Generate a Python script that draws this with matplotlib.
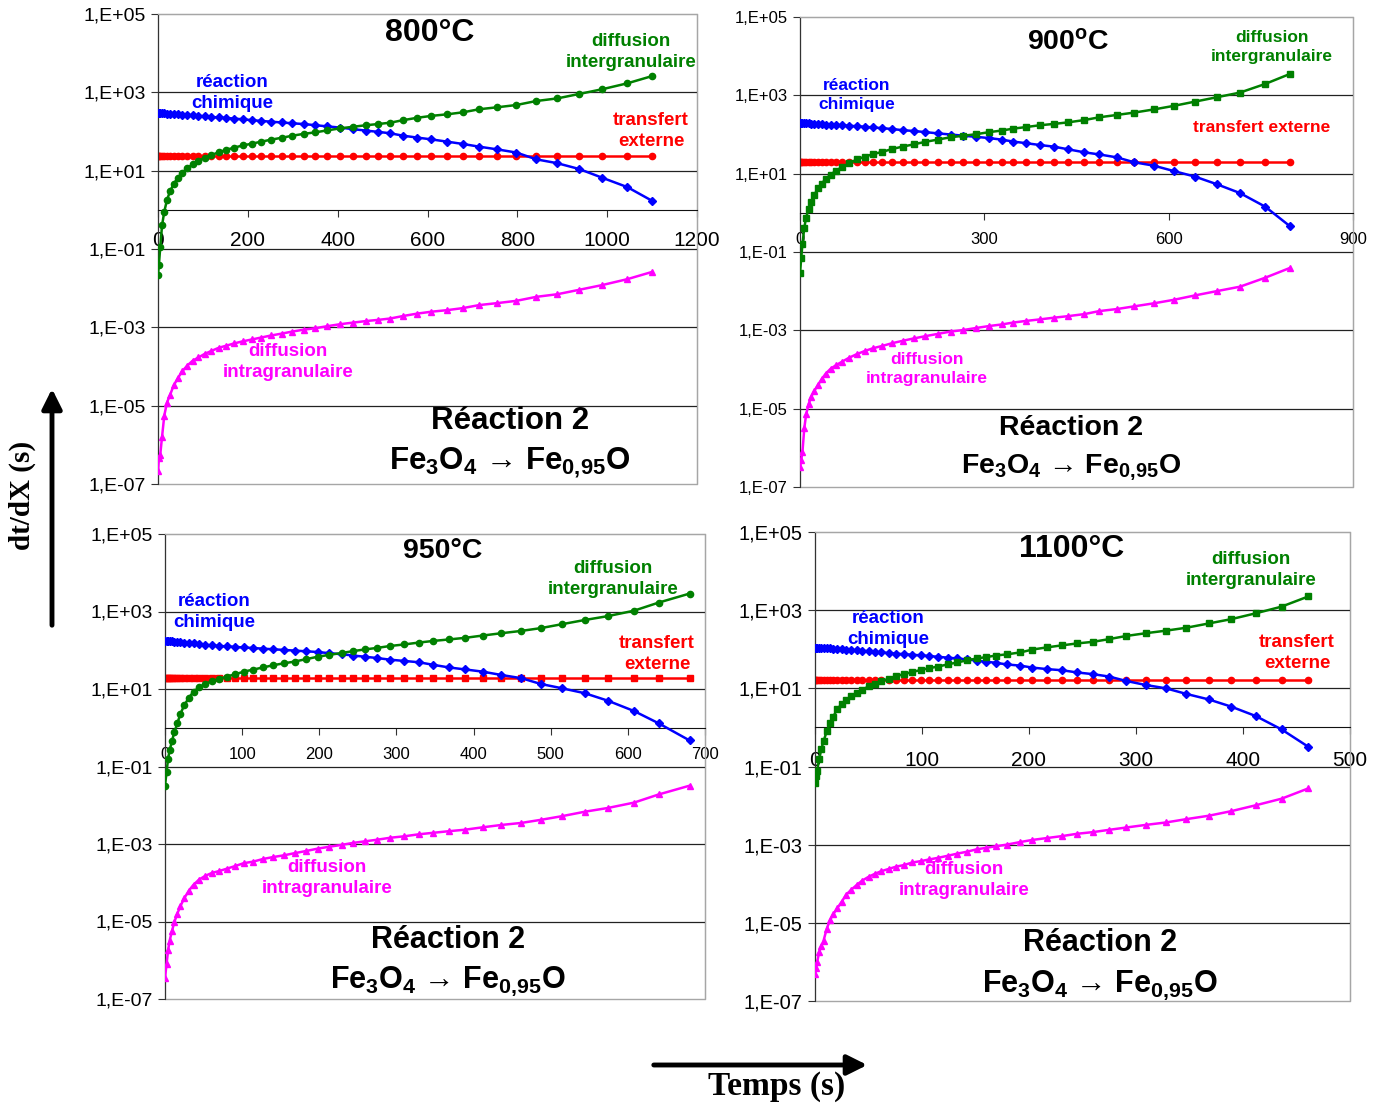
import numpy as np
import matplotlib
matplotlib.use("Agg")
import matplotlib.pyplot as plt
from matplotlib.patches import FancyArrowPatch, Rectangle
from matplotlib.ticker import NullLocator

# --- data (time in s, dt/dX in s) ---
t_800 = [0, 2, 5, 9, 14, 20, 27, 35, 44, 54, 65, 77, 90, 104, 119, 135, 152, 170, 189, 209,
         230, 252, 275, 299, 324, 350, 377, 405, 434, 464, 490, 517, 546, 577, 608, 644, 679,
         715, 755, 798, 842, 889, 938, 989, 1045, 1100]
chim_800 = [300, 300, 298, 295, 292, 288, 285, 282, 275, 269, 263, 257, 251, 243, 234, 229, 221,
            214, 204, 195, 186, 178, 170, 162, 155, 145, 135, 126, 115, 105, 98, 90, 78, 70, 63,
            55, 48, 41, 35, 29, 19.5, 15.5, 11, 6.6, 3.8, 1.7]
inter_800 = [0.022, 0.04, 0.11, 0.40, 0.9, 1.8, 3.0, 4.6, 6.6, 8.9, 11.5, 14.5, 17.8, 21.4, 25,
             29.5, 34, 39, 44, 49, 55, 62, 69, 78, 87, 95, 107, 120, 132, 145, 155, 168, 195, 224,
             250, 275, 309, 370, 415, 475, 600, 700, 910, 1200, 1700, 2600]
intra_800 = [2.1e-7, 4.5e-7, 5.6e-7, 1.6e-6, 5.6e-6, 1.2e-5, 1.9e-5, 3.3e-5, 5.0e-5, 7.6e-5,
             1.05e-4, 1.4e-4, 1.7e-4, 2.1e-4, 2.5e-4, 3.0e-4, 3.4e-4, 3.9e-4, 4.4e-4, 4.9e-4,
             5.5e-4, 6.2e-4, 6.9e-4, 7.8e-4, 8.7e-4, 9.5e-4, 1.07e-3, 1.2e-3, 1.32e-3, 1.45e-3,
             1.55e-3, 1.68e-3, 1.95e-3, 2.24e-3, 2.5e-3, 2.75e-3, 3.1e-3, 3.7e-3, 4.15e-3,
             4.75e-3, 6.0e-3, 7.0e-3, 9.1e-3, 1.2e-2, 1.7e-2, 2.6e-2]
ext_800 = 24

t_900 = [0, 2, 4, 7, 10, 14, 18, 23, 29, 35, 42, 50, 59, 69, 80, 92, 105, 119, 134, 150, 167,
         185, 204, 224, 245, 266, 287, 308, 328, 347, 368, 390, 413, 436, 463, 487, 516, 544,
         576, 608, 643, 678, 716, 757, 797]
chim_900 = [200, 200, 199, 197, 195, 193, 190, 186, 184, 182, 178, 176, 174, 170, 168, 162, 158,
            151, 145, 138, 129, 123, 115, 107, 100, 93, 87, 81, 74, 66, 60, 54, 49, 42, 35, 31,
            26, 19.5, 16, 11.7, 8.4, 5.4, 3.2, 1.44, 0.46]
inter_900 = [0.029, 0.07, 0.16, 0.42, 0.76, 1.26, 1.9, 2.8, 4.2, 5.5, 7.4, 9.5, 12, 14.8, 18.2,
             23, 27, 31.6, 36, 42.7, 49, 56, 65, 74, 85, 93, 102, 115, 126, 141, 155, 172, 186,
             204, 234, 275, 316, 363, 437, 537, 692, 891, 1175, 1950, 3500]
intra_900 = [3.2e-7, 5.0e-7, 7.9e-7, 3.2e-6, 7.1e-6, 1.3e-5, 2.0e-5, 2.8e-5, 4.0e-5, 5.6e-5,
             7.9e-5, 1.05e-4, 1.3e-4, 1.6e-4, 2.0e-4, 2.45e-4, 2.95e-4, 3.5e-4, 4.0e-4, 4.7e-4,
             5.4e-4, 6.2e-4, 7.1e-4, 8.1e-4, 9.3e-4, 1.02e-3, 1.15e-3, 1.29e-3, 1.41e-3, 1.58e-3,
             1.74e-3, 1.9e-3, 2.1e-3, 2.3e-3, 2.6e-3, 3.1e-3, 3.5e-3, 4.1e-3, 4.9e-3, 6.0e-3,
             7.8e-3, 1.0e-2, 1.3e-2, 2.2e-2, 3.9e-2]
ext_900 = 19.5

t_950 = [0, 2, 4, 6, 9, 12, 16, 20, 25, 31, 37, 44, 52, 61, 70, 80, 91, 102, 114, 127, 140, 154,
         168, 183, 198, 213, 229, 244, 259, 275, 292, 310, 329, 348, 368, 389, 412, 436, 462,
         487, 514, 544, 574, 608, 640, 680]
chim_950 = [174, 174, 173, 172, 170, 168, 165, 162, 158, 154, 150, 144, 138, 133, 129, 126, 122,
            118, 114, 110, 106, 102, 98, 94, 90, 84, 79, 73, 68, 63, 57, 53, 49, 42, 36, 32, 28,
            23, 19, 13.5, 10.5, 7.8, 5.0, 2.7, 1.3, 0.47]
inter_950 = [0.032, 0.071, 0.16, 0.26, 0.45, 0.76, 1.3, 2.3, 3.8, 6.0, 8.5, 11, 13.5, 15.8, 18.2,
             21, 24, 28, 31.6, 36, 41, 46, 51, 59, 68, 76, 85, 95, 105, 115, 129, 141, 158, 174,
             190, 209, 240, 275, 316, 372, 468, 603, 759, 1050, 1700, 2900]
intra_950 = [3.5e-7, 7.9e-7, 1.8e-6, 3.2e-6, 5.6e-6, 9.5e-6, 1.6e-5, 2.5e-5, 4.0e-5, 6.3e-5,
             8.9e-5, 1.2e-4, 1.5e-4, 1.8e-4, 2.0e-4, 2.3e-4, 2.7e-4, 3.2e-4, 3.5e-4, 4.1e-4,
             4.6e-4, 5.1e-4, 5.8e-4, 6.6e-4, 7.6e-4, 8.5e-4, 9.5e-4, 1.07e-3, 1.17e-3, 1.29e-3,
             1.45e-3, 1.58e-3, 1.78e-3, 1.95e-3, 2.14e-3, 2.34e-3, 2.7e-3, 3.1e-3, 3.5e-3, 4.2e-3,
             5.2e-3, 6.8e-3, 8.5e-3, 1.17e-2, 1.9e-2, 3.2e-2]
ext_950 = 19

t_1100 = [0, 1, 2, 4, 6, 8, 11, 14, 17, 21, 25, 29, 34, 39, 44, 50, 56, 62, 69, 76, 83, 91, 99,
          107, 115, 124, 133, 142, 151, 160, 169, 179, 192, 203, 217, 231, 245, 260, 275, 291,
          309, 328, 347, 368, 389, 412, 436, 461]
chim_1100 = [110, 110, 110, 108, 107, 107, 106, 105, 104, 102, 100, 98, 96, 93, 91, 89, 86, 83,
             80, 77, 75, 72, 70, 67, 64, 61, 58, 55, 51, 48, 45, 41, 38, 34, 31, 29, 25.5, 23,
             20, 15.4, 12.2, 10, 7.2, 5.2, 3.4, 1.95, 0.89, 0.32]
inter_1100 = [0.038, 0.056, 0.079, 0.16, 0.28, 0.45, 0.79, 1.26, 1.9, 2.95, 4.0, 4.9, 6.3, 7.6,
              9.1, 11.2, 12.9, 15.1, 17.8, 20.7, 22.9, 26.3, 29.5, 33, 36, 41, 46, 52, 58, 63, 69,
              74, 83, 98, 112, 126, 141, 155, 182, 219, 257, 299, 355, 457, 589, 832, 1230, 2240]
intra_1100 = [5.0e-7, 7.1e-7, 1.0e-6, 1.8e-6, 2.6e-6, 3.5e-6, 7.1e-6, 1.17e-5, 1.66e-5, 2.4e-5,
              3.5e-5, 5.2e-5, 7.1e-5, 9.3e-5, 1.2e-4, 1.5e-4, 1.8e-4, 2.1e-4, 2.4e-4, 2.75e-4,
              3.0e-4, 3.5e-4, 3.8e-4, 4.2e-4, 4.6e-4, 5.2e-4, 5.9e-4, 6.6e-4, 7.6e-4, 8.3e-4,
              9.1e-4, 1.0e-3, 1.17e-3, 1.32e-3, 1.48e-3, 1.66e-3, 1.9e-3, 2.1e-3, 2.4e-3, 2.75e-3,
              3.2e-3, 3.7e-3, 4.5e-3, 5.5e-3, 7.2e-3, 1.02e-2, 1.5e-2, 2.75e-2]
ext_1100 = 16.3

y_decades = [-7, -5, -3, -1, 1, 3, 5]
y_labels = [f"1,E{e:+03d}" for e in y_decades]

plt.rcParams["font.family"] = ["Liberation Sans", "DejaVu Sans"]
plt.rcParams["mathtext.fontset"] = "custom"
plt.rcParams["mathtext.rm"] = "Liberation Sans"
plt.rcParams["mathtext.bf"] = "Liberation Sans:bold"
plt.rcParams["mathtext.it"] = "Liberation Sans:italic"

W, H = 1383, 1106
fig = plt.figure(figsize=(W / 100, H / 100), dpi=100)


def fx(x):
    return x / W


def fy(y):
    return 1 - y / H


def txt(x, y, s, size, color="black", **kw):
    fig.text(fx(x), fy(y), s, ha="center", va="center", fontsize=size,
             fontweight="bold", color=color, linespacing=1.35, **kw)


# box (left, top, right, bottom) in px, xmax, xstep, markers, tick sizes, x label pad
panels = [
    (t_800, chim_800, inter_800, intra_800, ext_800, (158, 14, 697, 484), 1200, 200, "o", "o", 14, 15, 10),
    (t_900, chim_900, inter_900, intra_900, ext_900, (800, 17, 1353, 487), 900, 300, "s", "o", 12, 12, 9),
    (t_950, chim_950, inter_950, intra_950, ext_950, (165, 534, 705, 999), 700, 100, "o", "s", 14, 12, 9),
    (t_1100, chim_1100, inter_1100, intra_1100, ext_1100, (815, 532, 1350, 1001), 500, 100, "s", "o", 14.5, 15, 12),
]

for t, chim, inter, intra, ext, box, xmax, xstep, gmark, rmark, ysz, xsz, xpad in panels:
    l, tp, r, b = box
    ax = fig.add_axes([fx(l), fy(b), (r - l) / W, (b - tp) / H])
    ax.set_yscale("log")
    ax.set_ylim(1e-7, 1e5)
    ax.set_xlim(0, xmax)
    for e in y_decades[1:-1]:
        ax.axhline(10.0 ** e, color="#222222", lw=0.9, zorder=0.5)

    ax.plot(t, np.full(len(t), ext), color="red", marker=rmark, ms=4.5, lw=1.8, zorder=2)
    ax.plot(t, chim, color="blue", marker="D", ms=4.5, lw=1.8, zorder=3)
    ax.plot(t, inter, color="#008000", marker=gmark, ms=4.5, lw=1.8, zorder=4)
    ax.plot(t, intra, color="magenta", marker="^", ms=5, lw=1.8, zorder=4)

    ax.set_yticks([10.0 ** e for e in y_decades])
    ax.set_yticklabels(y_labels)
    ax.yaxis.set_minor_locator(NullLocator())
    ax.set_xticks(np.arange(0, xmax + 1, xstep))
    ax.spines["bottom"].set_position(("data", 1))
    for s in ["top", "right"]:
        ax.spines[s].set_color("#a6a6a6")
    ax.spines["left"].set_color("#333333")
    ax.spines["bottom"].set_color("#111111")
    ax.add_patch(Rectangle((0, 0), 1, 1, transform=ax.transAxes, fill=False,
                           edgecolor="#a6a6a6", lw=1.0, clip_on=False, zorder=0.4))
    ax.tick_params(axis="y", direction="out", length=5, pad=4, labelsize=ysz, color="#333333")
    ax.tick_params(axis="x", direction="out", length=5, pad=xpad, labelsize=xsz, color="#333333")

formula = r"$\mathbf{Fe_{3}O_{4}}$ → $\mathbf{Fe_{0{,}95}O}$"
green = "#008000"

# 800 C
txt(430, 33, "800°C", 23)
txt(232, 93, "réaction\nchimique", 13.5, "blue")
txt(631, 52, "diffusion\nintergranulaire", 13.5, green)
txt(651, 131, "transfert\nexterne", 13.5, "red")
txt(288, 362, "diffusion\nintragranulaire", 13.5, "magenta")
txt(510, 421, "Réaction 2", 22.5)
txt(510, 463, formula, 22.5)

# 900 C
txt(1068, 42, r"$\mathbf{900^{o}C}$", 20.5)
txt(857, 95, "réaction\nchimique", 12.5, "blue")
txt(1272, 47, "diffusion\nintergranulaire", 12.5, green)
txt(1262, 128, "transfert externe", 12.5, "red")
txt(927, 369, "diffusion\nintragranulaire", 12.5, "magenta")
txt(1071, 428, "Réaction 2", 20.5)
txt(1071, 467, formula, 20.5)

# 950 C
txt(443, 551, "950°C", 20.5)
txt(214, 612, "réaction\nchimique", 13.5, "blue")
txt(613, 579, "diffusion\nintergranulaire", 13.5, green)
txt(657, 654, "transfert\nexterne", 13.5, "red")
txt(327, 878, "diffusion\nintragranulaire", 13.5, "magenta")
txt(448, 940, "Réaction 2", 22)
txt(448, 981, formula, 22)

# 1100 C
txt(1072, 549, "1100°C", 23)
txt(888, 629, "réaction\nchimique", 13.5, "blue")
txt(1251, 570, "diffusion\nintergranulaire", 13.5, green)
txt(1297, 653, "transfert\nexterne", 13.5, "red")
txt(964, 880, "diffusion\nintragranulaire", 13.5, "magenta")
txt(1100, 943, "Réaction 2", 22)
txt(1100, 985, formula, 22)

# global axis labels with arrows
fig.text(fx(22), fy(495), "dt/dX (s)", rotation=90, ha="center", va="center",
         fontsize=21, fontweight="bold", family="Liberation Serif")
fig.text(fx(777), fy(1087), "Temps (s)", ha="center", va="center",
         fontsize=24, fontweight="bold", family="Liberation Serif")
arrow_style = "-|>,head_length=0.6,head_width=0.3"
fig.add_artist(FancyArrowPatch((fx(52), fy(628)), (fx(52), fy(386)), transform=fig.transFigure,
                               arrowstyle=arrow_style, mutation_scale=20, lw=3.5, color="black"))
fig.add_artist(FancyArrowPatch((fx(651), fy(1065)), (fx(870), fy(1065)), transform=fig.transFigure,
                               arrowstyle=arrow_style, mutation_scale=20, lw=3.5, color="black"))

fig.savefig("out.png", dpi=100)
